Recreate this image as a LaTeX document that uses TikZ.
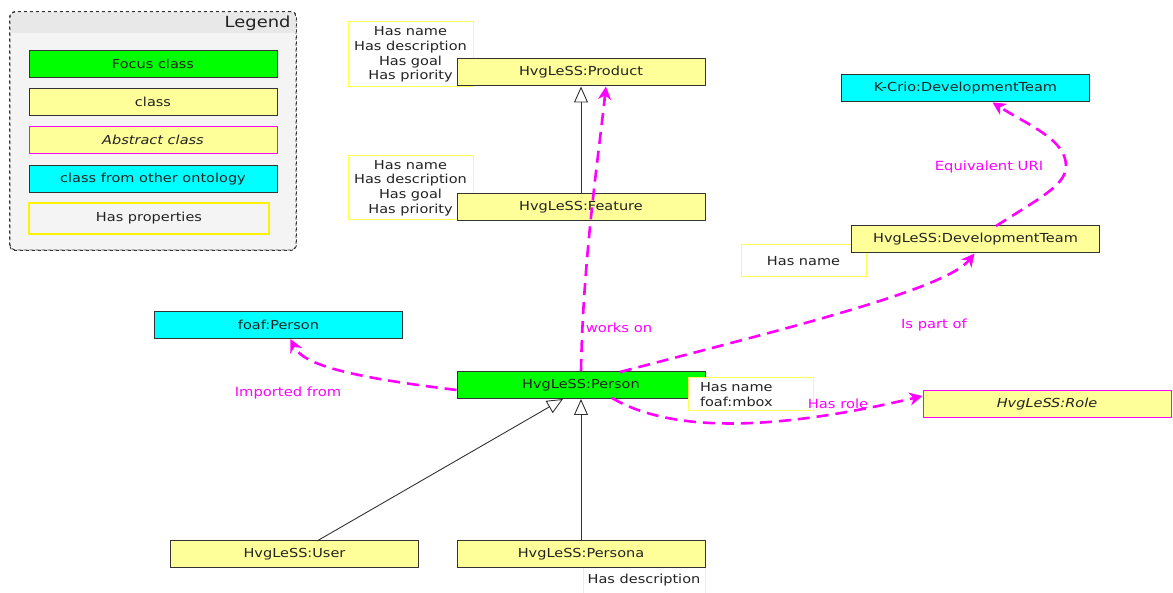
\documentclass[tikz,border=0pt]{standalone}
\usepackage{fontspec}
\setmainfont{DejaVu Sans}[FakeStretch=1.17]
\usetikzlibrary{arrows.meta}
\definecolor{cyel}{HTML}{FFFF99}
\definecolor{cgreen}{HTML}{00FF00}
\definecolor{ccyan}{HTML}{00FFFF}
\definecolor{cmag}{HTML}{FF00FF}
\definecolor{cborder}{HTML}{333333}
\definecolor{cprop}{HTML}{FFFF55}
\definecolor{ctext}{HTML}{222222}
\definecolor{clegbg}{HTML}{F4F4F4}
\definecolor{cleghead}{HTML}{E8E8E8}
\tikzset{
  txt/.style={font=\fontsize{12.4}{14.7}\selectfont, text=ctext},
  cls/.style={txt, draw=cborder, line width=1pt, fill=cyel, minimum width=248pt, minimum height=27pt, inner sep=0pt},
  focus/.style={cls, fill=cgreen},
  other/.style={cls, fill=ccyan},
  abstr/.style={cls, draw=cmag, font=\fontsize{12.4}{14.7}\selectfont\itshape},
  props/.style={txt, draw=cprop, line width=1pt, fill=white, inner sep=0pt, align=center},
  gen/.style={draw=cborder, line width=0.9pt, -{Triangle[open, length=16pt, width=14pt]}},
  rel/.style={draw=cmag, line width=2.6pt, dash pattern=on 12pt off 7pt, -{Stealth[length=13pt, width=13pt, inset=4pt]}},
  rlab/.style={font=\fontsize{12.6}{15}\selectfont, text=cmag},
}
\begin{document}
\begin{tikzpicture}[x=1pt,y=-1pt]
\useasboundingbox (0,0) rectangle (1173,593);
\fill[white] (0,0) rectangle (1173,593);

% Legend
\node[draw=cborder, dashed, line width=0.9pt, rounded corners=5pt, fill=clegbg, minimum width=286pt, minimum height=238pt, inner sep=0pt] (legend) at (153,131) {};
\begin{scope}
\clip[rounded corners=5pt] (10.5,12.5) rectangle (295.5,249.5);
\fill[cleghead] (10.5,12.5) rectangle (295.5,33);
\end{scope}
\draw[cborder, dashed, line width=0.9pt, rounded corners=5pt] (legend.south west) rectangle (legend.north east);
\node[font=\fontsize{15.3}{18}\selectfont, text=ctext, anchor=east] (legtitle) at (294,23) {Legend};
\node[focus] (lfocus) at (153,64) {Focus class};
\node[cls] (lclass) at (153,102) {class};
\node[abstr] (labstr) at (153,140) {Abstract class};
\node[other] (lother) at (153,179) {class from other ontology};
\node[props, draw=yellow, line width=1.3pt, fill=clegbg, minimum width=240pt, minimum height=31pt] (lprops) at (149,218.5) {Has properties};

% Property boxes
\node[props, minimum width=125pt, minimum height=65pt] (prodp) at (410.5,54.5) {Has name\\Has description\\Has goal\\Has priority};
\node[props, minimum width=125pt, minimum height=64pt] (featp) at (410.5,188) {Has name\\Has description\\Has goal\\Has priority};
\node[props, minimum width=125pt, minimum height=32pt] (devp) at (803.5,261) {Has name};
\node[props, minimum width=122pt, minimum height=26pt] (persop) at (644,580) {Has description};

% Classes
\node[cls] (product) at (581,72.5) {HvgLeSS:Product};
\node[cls] (feature) at (581,207.5) {HvgLeSS:Feature};
\node[other] (kcrio) at (965.5,88.5) {K-Crio:DevelopmentTeam};
\node[cls] (devteam) at (975.5,239.5) {HvgLeSS:DevelopmentTeam};
\node[other] (foaf) at (278.5,325) {foaf:Person};
\node[focus] (person) at (581,385) {HvgLeSS:Person};
\node[abstr] (role) at (1047,404) {HvgLeSS:Role};
\node[cls] (user) at (294.5,554) {HvgLeSS:User};
\node[cls] (persona) at (581,554) {HvgLeSS:Persona};

% properties of Person, drawn over the Person box
\node[props, align=left, minimum width=125pt, minimum height=33pt, text width=101pt] (persp) at (750.5,394.5) {Has name\\[1pt]foaf:mbox};

% Generalizations
\draw[gen] (feature.north) -- (product.south);
\draw[gen] (persona.north) -- (person.south);
\coordinate (userTop) at (317,541);
\draw[gen] (userTop) -- ([xshift=-18pt]person.south);

% Relations
\draw[rel] (person.north) .. controls (583,260) and (598,160) .. ([xshift=25pt]product.south);
\node[rlab] (lworks) at (619,328) {works on};

\coordinate (isA) at (620,372);
\draw[rel] (isA) .. controls (780,330) and (945,290) .. ([xshift=-1pt]devteam.south);
\node[rlab] (lpart) at (934,325) {Is part of};

\coordinate (eqA) at (996,226);
\draw[rel] (eqA) .. controls (1040,198) and (1066,185) .. (1066,166) .. controls (1066,140) and (1030,126) .. ([xshift=27pt]kcrio.south);
\node[rlab] (leq) at (989,167) {Equivalent URI};

\draw[rel] ([yshift=-5pt]person.west) .. controls (350,377) and (303,365) .. ([xshift=12pt]foaf.south);
\node[rlab] (limp) at (288,393) {Imported from};

\coordinate (roleA) at (612,398);
\draw[rel] (roleA) .. controls (670,432) and (770,432) .. ([yshift=8pt]role.west);
\node[rlab] (lrole) at (838,404) {Has role};
\end{tikzpicture}
\end{document}
